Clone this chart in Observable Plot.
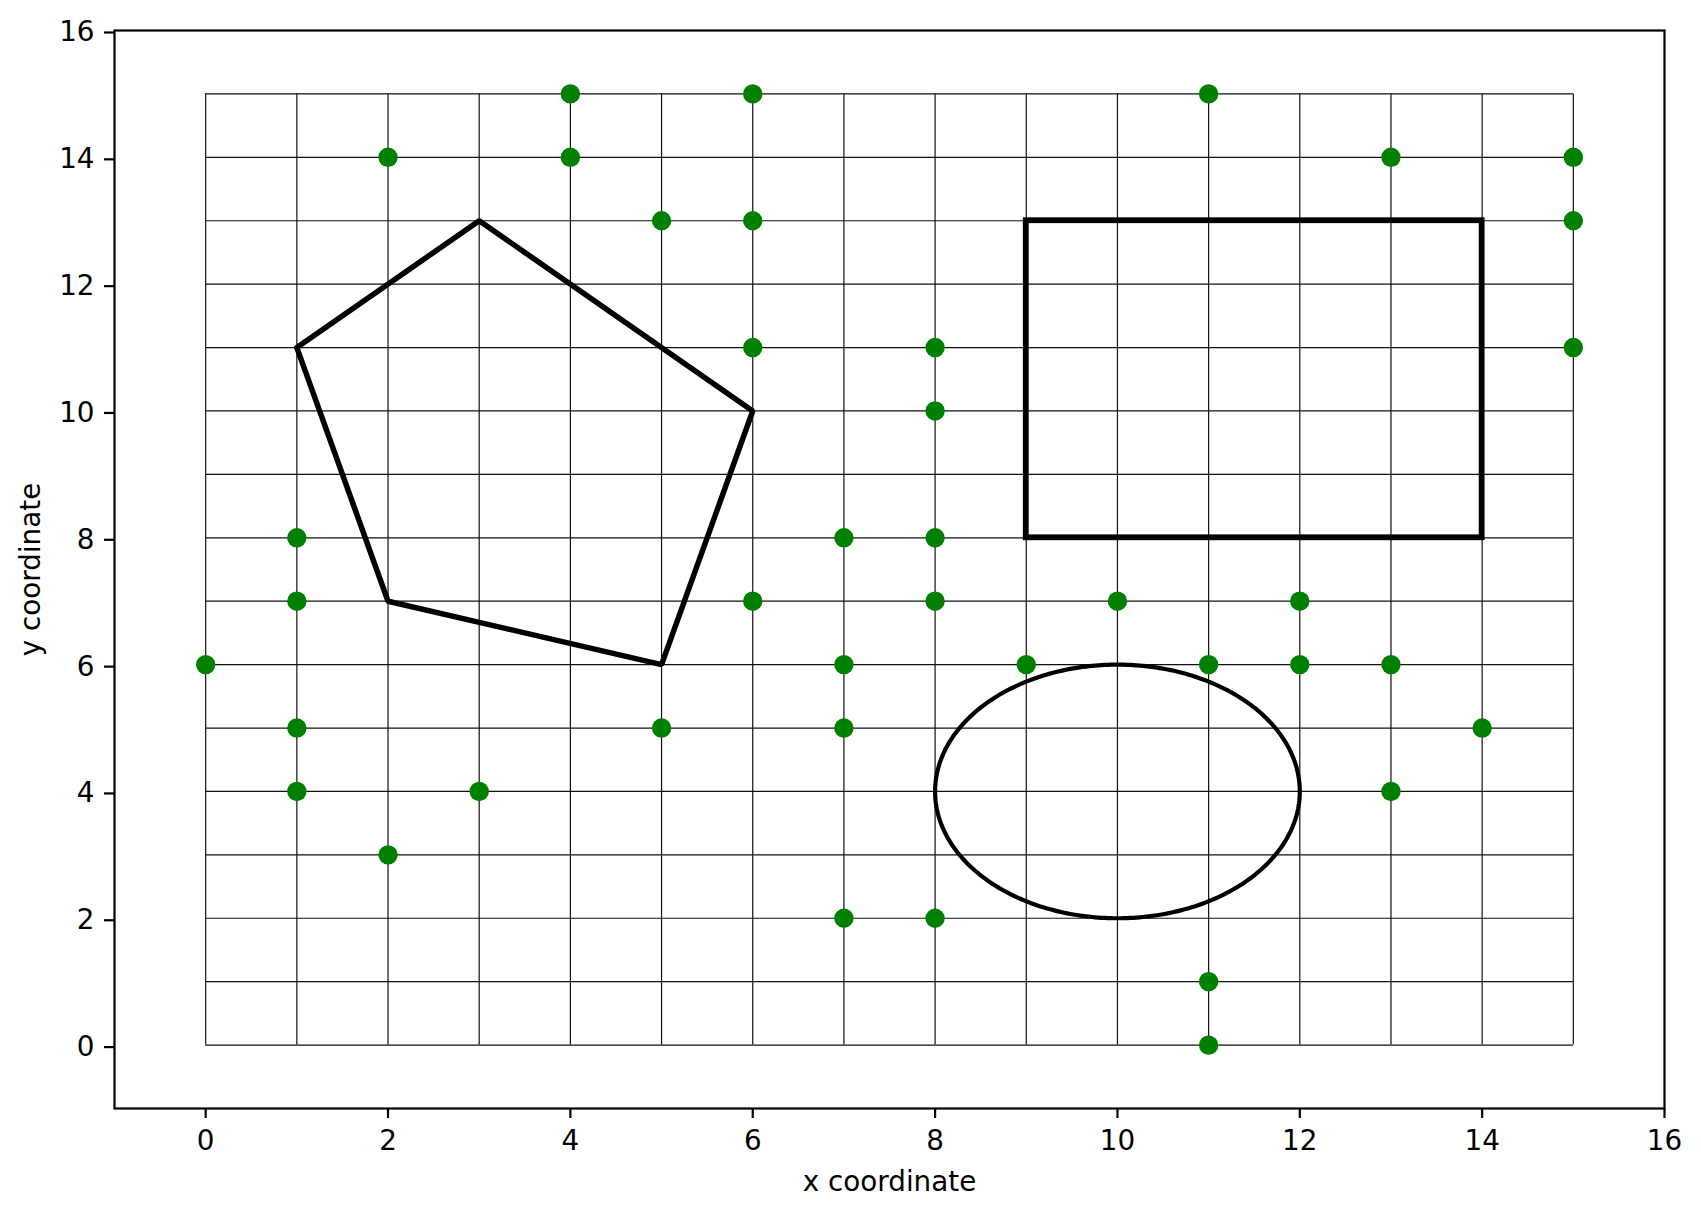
<!DOCTYPE html>
<html>
<head>
<meta charset="utf-8">
<script src="https://cdn.jsdelivr.net/npm/d3@7"></script>
<script src="https://cdn.jsdelivr.net/npm/@observablehq/plot@0.6"></script>
<style>
  html, body { margin: 0; padding: 0; background: #fff; }
  #chart svg { display: block; }
</style>
</head>
<body>
<div id="chart"></div>
<script>
// Scattered points
const pointX = [4, 6, 11, 2, 4, 13, 15, 5, 6, 15, 6, 8, 15, 8, 1, 7, 8, 1, 6, 8, 10, 12, 0, 7, 9, 11, 12, 13, 1, 5, 7, 14, 1, 3, 13, 2, 7, 8, 11, 11];
const pointY = [15, 15, 15, 14, 14, 14, 14, 13, 13, 13, 11, 11, 11, 10, 8, 8, 8, 7, 7, 7, 7, 7, 6, 6, 6, 6, 6, 6, 5, 5, 5, 5, 4, 4, 4, 3, 2, 2, 1, 0];

// Pentagon vertices (closed)
const pentagonX = [1, 3, 6, 5, 2, 1];
const pentagonY = [11, 13, 10, 6, 7, 11];

// Rectangle corners
const rectX = [9, 14];
const rectY = [8, 13];

// Ellipse (circle in data units)
const ellipseCenter = [10, 4];
const ellipseRadius = [2, 2];

// Grid lines
const gridValues = [0, 1, 2, 3, 4, 5, 6, 7, 8, 9, 10, 11, 12, 13, 14, 15];
const gridExtent = [0, 15];

// Axes
const xTicks = [0, 2, 4, 6, 8, 10, 12, 14, 16];
const yTicks = [0, 2, 4, 6, 8, 10, 12, 14, 16];
const xDomain = [-1, 16];
const yDomain = [-1, 16];
const xLabel = "x coordinate";
const yLabel = "y coordinate";

const points = pointX.map((x, i) => ({x, y: pointY[i]}));
const pentagon = pentagonX.map((x, i) => ({x, y: pentagonY[i]}));
const rect = [{x1: rectX[0], x2: rectX[1], y1: rectY[0], y2: rectY[1]}];
const ellipse = d3.range(0, 361, 1).map(a => ({
  x: ellipseCenter[0] + ellipseRadius[0] * Math.cos(a * Math.PI / 180),
  y: ellipseCenter[1] + ellipseRadius[1] * Math.sin(a * Math.PI / 180)
}));

const chart = Plot.plot({
  width: 1701,
  height: 1215,
  marginLeft: 114,
  marginRight: 37,
  marginTop: 30,
  marginBottom: 107,
  style: {fontFamily: "'DejaVu Sans', sans-serif", fontSize: "27.8px", background: "white", color: "black"},
  x: {domain: xDomain, label: null},
  y: {domain: yDomain, label: null},
  marks: [
    Plot.ruleX(gridValues, {x: d => d, y1: gridExtent[0], y2: gridExtent[1], stroke: "#111", strokeWidth: 1.2}),
    Plot.ruleY(gridValues, {y: d => d, x1: gridExtent[0], x2: gridExtent[1], stroke: "#111", strokeWidth: 1.2}),
    Plot.line(pentagon, {x: "x", y: "y", stroke: "black", strokeWidth: 5.5, strokeLinejoin: "miter"}),
    Plot.rect(rect, {x1: "x1", x2: "x2", y1: "y1", y2: "y2", fill: "none", stroke: "black", strokeWidth: 5.8, strokeLinejoin: "miter"}),
    Plot.line(ellipse, {x: "x", y: "y", stroke: "black", strokeWidth: 4.2}),
    Plot.dot(points, {x: "x", y: "y", r: 9.7, fill: "#008000", stroke: "none"}),
    Plot.frame({stroke: "black", strokeWidth: 2.2}),
    Plot.axisX({ticks: xTicks, tickSize: 10, tickPadding: 12, strokeWidth: 2.2, label: null}),
    Plot.axisY({ticks: yTicks, tickSize: 10, tickPadding: 10, strokeWidth: 2.2, label: null, dy: 2}),
    Plot.text([xLabel], {text: d => d, frameAnchor: "bottom", textAnchor: "middle", lineAnchor: "bottom", dy: 82, fill: "black"}),
    Plot.text([yLabel], {text: d => d, frameAnchor: "left", textAnchor: "middle", lineAnchor: "bottom", rotate: -90, dx: -75, fill: "black"})
  ]
});

document.getElementById("chart").appendChild(chart);
</script>
</body>
</html>
